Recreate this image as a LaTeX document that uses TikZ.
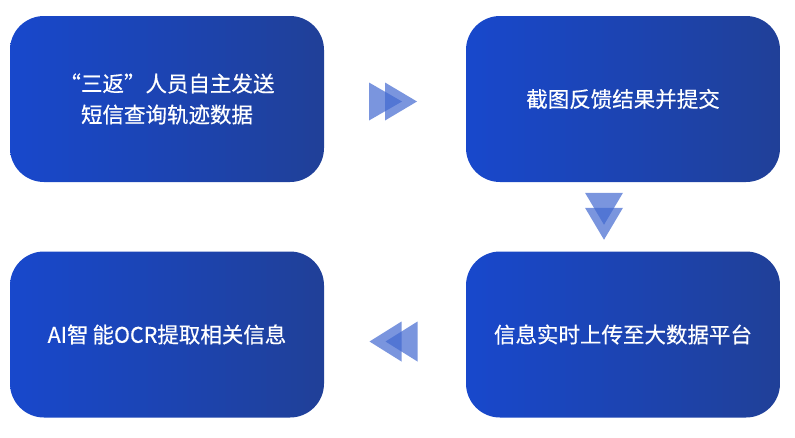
\documentclass[tikz,border=0pt]{standalone}
\usepackage{fontspec}
\newfontfamily\cjk[FakeBold=0.5]{Noto Sans CJK SC}
\usetikzlibrary{calc}
\definecolor{boxL}{RGB}{24,72,204}
\definecolor{boxR}{RGB}{32,64,152}
\definecolor{arrowC}{RGB}{65,104,208}
\tikzset{
  stepbox/.style={rounded corners=34pt, left color=boxL, right color=boxR,
    minimum width=314pt, minimum height=166pt, inner sep=0pt, draw=none,
    text=white, align=center, font=\cjk\fontsize{21.5}{31}\selectfont},
  tri/.style={fill=arrowC, fill opacity=0.7, draw=none}
}
\begin{document}
\begin{tikzpicture}[x=1pt,y=-1pt]
\useasboundingbox (0,0) rectangle (795,437);
\node[stepbox] (b1) at (167,99) {“三返”人员自主发送\\短信查询轨迹数据};
\node[stepbox] (b2) at (623,99) {截图反馈结果并提交};
\node[stepbox] (b3) at (623,334.5) {信息实时上传至大数据平台};
\node[stepbox] (b4) at (167,334.5) {AI智\hspace{4pt}能OCR提取相关信息};
% right arrow between b1 and b2
\coordinate (a1) at ($($(b1.east)!0.5!(b2.west)$)+(-2,2.5)$);
\begin{scope}[shift={(a1)}]
  \fill[tri] (-24,-19) -- (9,0) -- (-24,19) -- cycle;
  \fill[tri] (-8,-19) -- (24,0) -- (-8,19) -- cycle;
\end{scope}
% down arrow between b2 and b3
\coordinate (a2) at ($($(b2.south)!0.5!(b3.north)$)+(-19,0)$);
\begin{scope}[shift={(a2)}]
  \fill[tri] (-19,-24) -- (0,8) -- (19,-24) -- cycle;
  \fill[tri] (-19,-9) -- (0,23) -- (19,-9) -- cycle;
\end{scope}
% left arrow between b3 and b4
\coordinate (a3) at ($($(b4.east)!0.5!(b3.west)$)+(-1.5,7)$);
\begin{scope}[shift={(a3)}]
  \fill[tri] (24,-20) -- (-8,0) -- (24,20) -- cycle;
  \fill[tri] (8,-20) -- (-24,0) -- (8,20) -- cycle;
\end{scope}
\end{tikzpicture}
\end{document}
